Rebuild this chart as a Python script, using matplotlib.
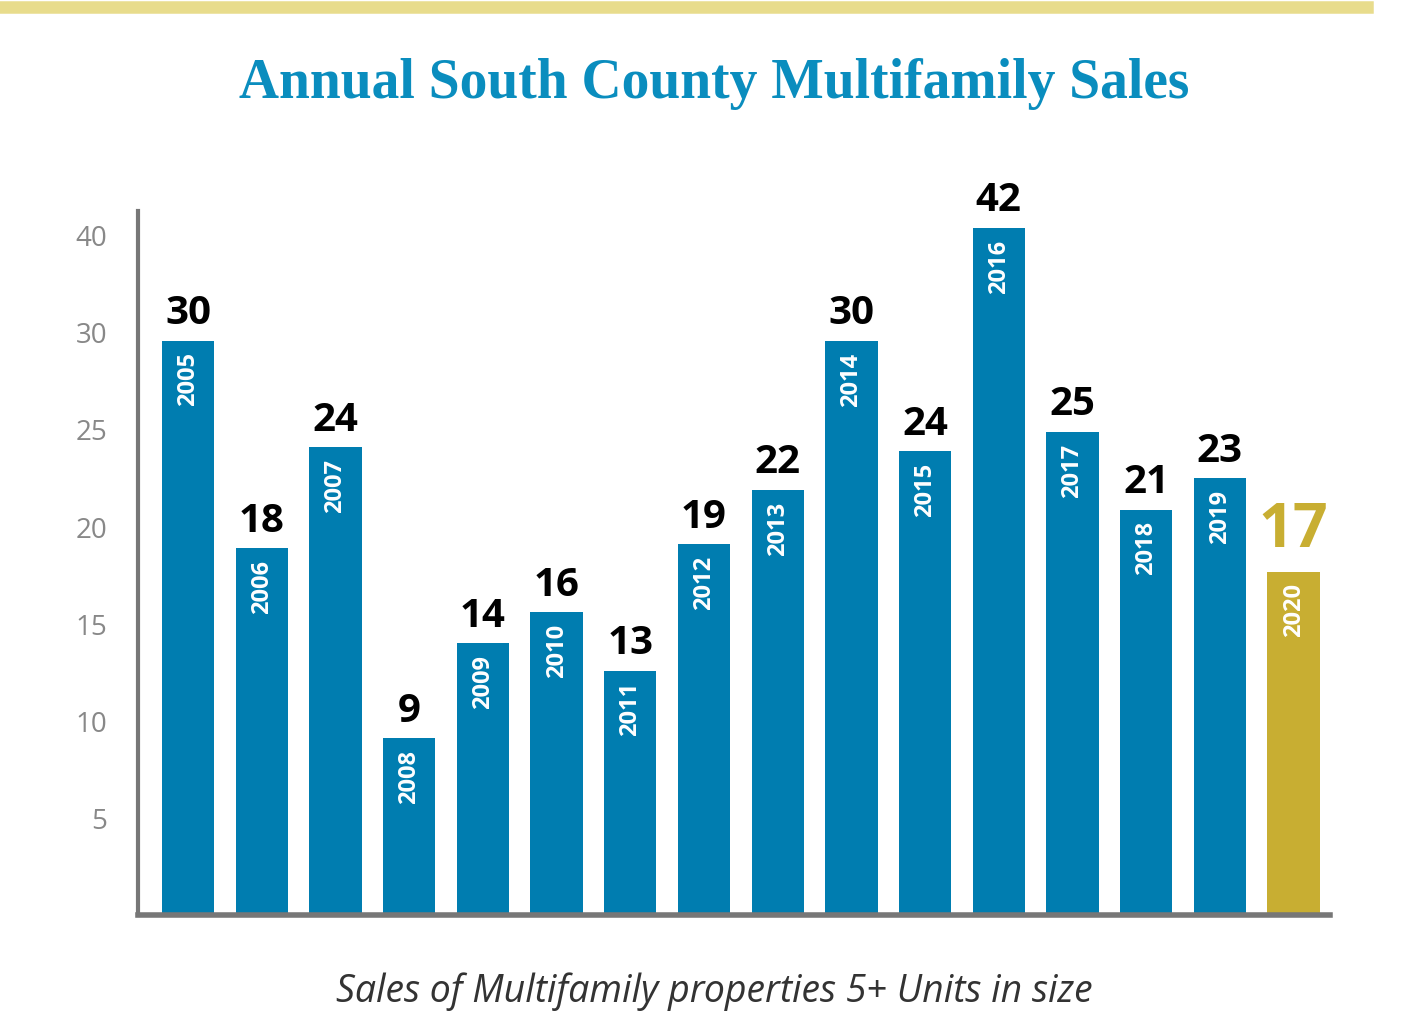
import matplotlib.pyplot as plt
from matplotlib.lines import Line2D

years = ['2005', '2006', '2007', '2008', '2009', '2010', '2011', '2012',
         '2013', '2014', '2015', '2016', '2017', '2018', '2019', '2020']
sales = [30, 18, 24, 9, 14, 16, 13, 19, 22, 30, 24, 42, 25, 21, 23, 17]
# bar heights as drawn in the original graphic (2016 bar is cut short there)
drawn = [29.6, 18.9, 24.1, 9.1, 14.0, 15.6, 12.6, 19.1, 21.9, 29.6, 23.9, 35.4, 24.9, 20.9, 22.5, 17.7]
tick_pos = [5, 10, 15, 20, 25, 30, 35]
tick_labels = ['5', '10', '15', '20', '25', '30', '40']

blue = '#007DB0'
gold = '#C8AE32'

fig = plt.figure(figsize=(14.12, 10.24), dpi=100)
ax = fig.add_axes([0.0977, 0.1064, 0.844, 0.72])

colors = [blue] * 15 + [gold]
x = range(len(years))
ax.bar(x, drawn, width=0.71, color=colors)

for i, (v, h) in enumerate(zip(sales, drawn)):
    if i == 15:
        ax.text(i, h + 0.5, str(v), ha='center', va='bottom', fontsize=44,
                fontweight='bold', color=gold, family='Open Sans')
    else:
        ax.text(i, h + 0.4, str(v), ha='center', va='bottom', fontsize=29,
                fontweight='bold', color='black', family='Open Sans')
    ax.text(i, h - 0.6, years[i], ha='center', va='top', rotation=90,
            fontsize=17, fontweight='bold', color='white', family='Open Sans')

ax.set_xlim(-0.68, 15.49)
ax.set_ylim(0, 38)
ax.set_yticks(tick_pos)
ax.set_yticklabels(tick_labels, fontsize=20, color='#888888', family='Open Sans')
ax.set_xticks([])
ax.tick_params(axis='y', length=0, pad=22)
for s in ['top', 'right']:
    ax.spines[s].set_visible(False)
ax.spines['left'].set_bounds(0, 36.3)
ax.spines['left'].set_color('#777777')
ax.spines['left'].set_linewidth(3)
ax.spines['bottom'].set_color('#777777')
ax.spines['bottom'].set_linewidth(4)

fig.add_artist(Line2D([0, 0.968], [0.993, 0.993], color='#E8DC8C', linewidth=9))
fig.text(0.506, 0.918, 'Annual South County Multifamily Sales', ha='center', va='center',
         fontsize=40, fontweight='bold', color='#0A8DBE', family='Liberation Serif')
fig.text(0.506, 0.032, 'Sales of Multifamily properties 5+ Units in size', ha='center',
         va='center', fontsize=27, style='italic', color='#333333', family='Open Sans')

fig.savefig('out.png', dpi=100)
